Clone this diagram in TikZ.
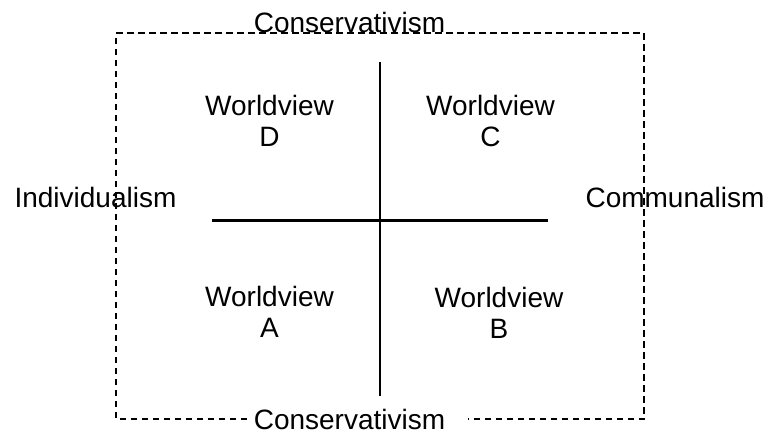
\documentclass[tikz,border=0pt]{standalone}
\usepackage{fontspec}
\setmainfont{Liberation Sans}
\begin{document}
\begin{tikzpicture}[x=1pt,y=-1pt,
  lbl/.style={inner sep=0pt,anchor=base,align=center,font=\fontsize{28}{31}\selectfont},
  frame/.style={line width=1.7pt,dash pattern=on 6.5pt off 4.5pt},
  axis/.style={line width=2.2pt}]
\useasboundingbox (0,0) rectangle (772,434);
% dashed frame
\coordinate (bl1) at (247,419);
\coordinate (bl) at (116,419);
\coordinate (tl) at (116,33);
\coordinate (tr) at (644,33);
\coordinate (br) at (644,419);
\coordinate (br1) at (468,419);
\draw[frame] (bl1) -- (bl) -- (tl) -- (tr) -- (br) -- (br1);
% axes
\coordinate (vt) at (380,62);
\coordinate (vb) at (380,396);
\coordinate (hl) at (212,220.5);
\coordinate (hr) at (548,220.5);
\draw[axis] (vt) -- (vb);
\draw[axis] (hl) -- (hr);
% labels
\node[lbl] (top) at (349.5,32) {Conservativism};
\node[lbl] (bot) at (349.5,429) {Conservativism};
\node[lbl] (ind) at (95.5,207) {Individualism};
\node[lbl] (com) at (675,207) {Communalism};
\node[lbl] (wd) at (269.5,146) {Worldview\\D};
\node[lbl] (wc) at (490.5,146) {Worldview\\C};
\node[lbl] (wa) at (269.5,337) {Worldview\\A};
\node[lbl] (wb) at (499,338) {Worldview\\B};
\end{tikzpicture}
\end{document}
